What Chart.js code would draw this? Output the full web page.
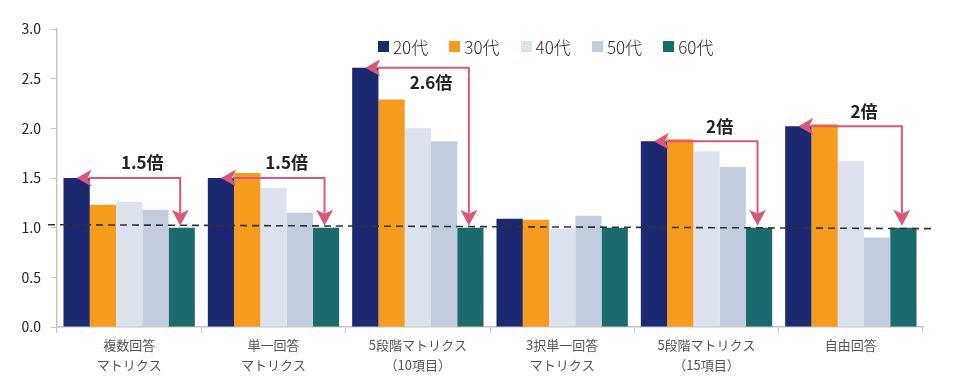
<!DOCTYPE html>
<html lang="ja">
<head>
<meta charset="utf-8">
<title>回答形式別 年代比較</title>
<script src="https://cdn.jsdelivr.net/npm/chart.js@4.4.1/dist/chart.umd.min.js"></script>
<style>
  html, body { margin: 0; padding: 0; background: #fff; }
  #wrap { position: relative; width: 963px; height: 390px; }
  #legend {
    position: absolute; left: 378px; top: 36px; display: flex;
    font-family: "Noto Sans CJK JP", sans-serif; font-size: 17px; font-weight: 300; line-height: 21px; color: #2a2a2a;
  }
  #legend .item { display: flex; align-items: center; width: 71.3px; }
  #legend .box { width: 11px; height: 11px; margin-right: 4px; flex: none; }
</style>
</head>
<body>
<div id="wrap">
  <canvas id="chart" width="963" height="390"></canvas>
  <div id="legend"></div>
</div>
<script>
// categories (two-line labels)
const categories = [
  ['複数回答', 'マトリクス'],
  ['単一回答', 'マトリクス'],
  ['5段階マトリクス', '（10項目）'],
  ['3択単一回答', 'マトリクス'],
  ['5段階マトリクス', '（15項目）'],
  ['自由回答']
];
const seriesNames = ['20代', '30代', '40代', '50代', '60代'];
const s20 = [1.50, 1.50, 2.61, 1.09, 1.87, 2.02];
const s30 = [1.23, 1.55, 2.29, 1.08, 1.89, 2.04];
const s40 = [1.26, 1.40, 2.00, 0.99, 1.77, 1.67];
const s50 = [1.18, 1.15, 1.87, 1.12, 1.61, 0.90];
const s60 = [1.00, 1.00, 1.00, 1.00, 1.00, 1.00];
const colors = ['#1c2870', '#f59c1e', '#dde3ee', '#c1cddf', '#1a6a6e'];

// ratio callouts (20代 vs 60代), null = none
const ratioLabels = ['1.5倍', '1.5倍', '2.6倍', null, '2倍', '2倍'];
const ratioLabelSide = ['above', 'above', 'below', null, 'above', 'above'];
// dashed reference line, value at left end and right end
const refLine = [1.03, 0.99];
const yTicks = [0, 0.5, 1.0, 1.5, 2.0, 2.5, 3.0];

const FONT = '"Noto Sans CJK JP", sans-serif';
const PINK = '#d9577a';

// html legend
const legendEl = document.getElementById('legend');
seriesNames.forEach((name, i) => {
  const item = document.createElement('div');
  item.className = 'item';
  item.innerHTML = '<span class="box" style="background:' + colors[i] + '"></span><span>' + name + '</span>';
  legendEl.appendChild(item);
});

// dashed line + pink arrows with ratio text
const calloutPlugin = {
  id: 'callouts',
  afterDatasetsDraw(chart) {
    const ctx = chart.ctx;
    const y = chart.scales.y;
    const area = chart.chartArea;

    ctx.save();
    ctx.strokeStyle = '#333';
    ctx.lineWidth = 1.6;
    ctx.setLineDash([7, 5]);
    ctx.beginPath();
    ctx.moveTo(area.left - 9, y.getPixelForValue(refLine[0]));
    ctx.lineTo(area.right + 10, y.getPixelForValue(refLine[1]));
    ctx.stroke();
    ctx.restore();

    ratioLabels.forEach((label, i) => {
      if (!label) return;
      const b0 = chart.getDatasetMeta(0).data[i];
      const b2 = chart.getDatasetMeta(2).data[i];
      const b4 = chart.getDatasetMeta(4).data[i];
      const x0 = b0.x, y0 = b0.y;
      const x4 = b4.x - 1.5, yEnd = b4.y - 2;

      ctx.save();
      ctx.strokeStyle = PINK;
      ctx.fillStyle = PINK;
      ctx.lineWidth = 2;
      ctx.beginPath();
      ctx.moveTo(x0 + 12, y0);
      ctx.lineTo(x4, y0);
      ctx.lineTo(x4, yEnd - 12);
      ctx.stroke();

      // left head
      ctx.beginPath();
      ctx.moveTo(x0, y0);
      ctx.lineTo(x0 + 15, y0 - 8.5);
      ctx.lineTo(x0 + 11, y0);
      ctx.lineTo(x0 + 15, y0 + 8.5);
      ctx.closePath();
      ctx.fill();

      // down head
      ctx.beginPath();
      ctx.moveTo(x4, yEnd);
      ctx.lineTo(x4 - 8.5, yEnd - 16);
      ctx.lineTo(x4, yEnd - 12);
      ctx.lineTo(x4 + 8.5, yEnd - 16);
      ctx.closePath();
      ctx.fill();

      ctx.fillStyle = '#222';
      ctx.font = 'bold 17px ' + FONT;
      ctx.textAlign = 'center';
      ctx.textBaseline = 'middle';
      const lx = b2.x + b2.width / 2;
      const ly = ratioLabelSide[i] === 'below' ? y0 + 15 : y0 - 15;
      ctx.fillText(label, lx, ly);
      ctx.restore();
    });
  }
};

const seriesData = [s20, s30, s40, s50, s60];

new Chart(document.getElementById('chart').getContext('2d'), {
  type: 'bar',
  data: {
    labels: categories,
    datasets: seriesData.map((d, i) => ({
      label: seriesNames[i],
      data: d,
      backgroundColor: colors[i],
      borderWidth: 0,
      categoryPercentage: 0.91,
      barPercentage: 1.0
    }))
  },
  options: {
    responsive: false,
    animation: false,
    devicePixelRatio: 1,
    layout: { padding: { top: 29, right: 40, left: 0, bottom: 0 } },
    plugins: {
      legend: { display: false },
      tooltip: { enabled: false }
    },
    scales: {
      x: {
        grid: { drawOnChartArea: false, drawTicks: true, tickLength: 6, color: '#c4c4c4' },
        border: { display: true, color: '#c4c4c4', width: 1.5 },
        ticks: {
          padding: 2,
          color: '#555',
          font: { family: FONT, size: 13, lineHeight: 1.55 },
          maxRotation: 0, autoSkip: false
        },
        afterFit: s => { s.height = 63; }
      },
      y: {
        min: 0,
        max: 3,
        afterBuildTicks: s => { s.ticks = yTicks.map(v => ({ value: v })); },
        grid: { drawOnChartArea: false, drawTicks: true, tickLength: 6, color: '#c4c4c4' },
        border: { display: true, color: '#c4c4c4', width: 1.5 },
        ticks: {
          padding: 10,
          color: '#222',
          font: { family: FONT, size: 14 },
          callback: v => Number(v).toFixed(1)
        },
        afterFit: s => { s.width = 57; }
      }
    }
  },
  plugins: [calloutPlugin]
});
</script>
</body>
</html>
